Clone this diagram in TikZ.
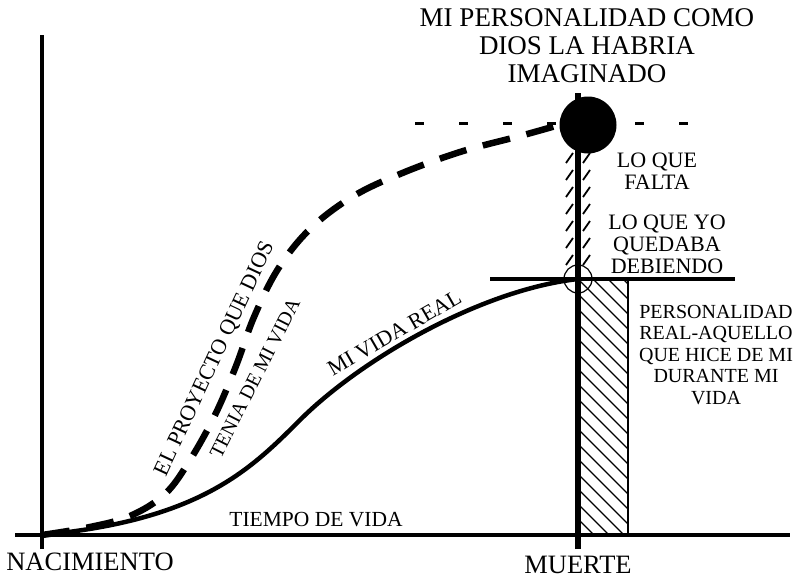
\documentclass[tikz,border=0pt]{standalone}
\usepackage{fontspec}
\setmainfont{Liberation Serif}
\usetikzlibrary{positioning,calc}
\newcommand{\fs}[2]{\fontsize{#1}{#2}\selectfont}

\begin{document}
\begin{tikzpicture}[x=1pt,y=-1pt, every node/.style={inner sep=0pt,align=center},
  axis/.style={line width=3.5pt},
  life/.style={line width=4.5pt,line cap=round},
  plan/.style={line width=6.5pt,dash pattern=on 28pt off 17pt},
  hatch/.style={line width=1.2pt},
  tick/.style={line width=1.8pt},
  lbl/.style={font=\fs{22}{22}}]
\useasboundingbox (0,0) rectangle (806,578);
% axes
\coordinate (o) at (42,535);
\coordinate (yend) at (42,35);
\coordinate (xstart) at (15,535);
\coordinate (xend) at (790,535);
\draw[axis] (xstart) -- (xend);
\draw[axis] ($(o)+(0,14)$) -- (yend);
% end of life
\coordinate (death) at (578,535);
\coordinate (real) at (578,279);
\node[circle,fill,minimum size=57pt] (ideal) at (588,125) {};
\draw[line width=6pt] ($(death)+(0,14)$) -- (578,93);
\draw[line width=4.5pt] (490,279) -- (735,279);
\draw[line width=1.2pt] (real) circle (14);
% realised part
\begin{scope}
\clip (real) rectangle (628,535);
\foreach \y in {219,234,...,535} \draw[hatch] (578,\y) -- ++(70,70);
\end{scope}
\draw[line width=2.5pt] (628,279) -- (628,535);
% missing part
\foreach \y in {158,175,...,263} {
  \draw[tick] (566,\y+5) -- (573,\y-5);
  \draw[tick] (583,\y+5) -- (590,\y-5);
}
\draw[line width=3pt,dash pattern=on 9pt off 35pt] (415,123) -- (690,123);
% curves
\coordinate (bend) at (300,420);
\draw[life] (o) .. controls (200,520) and (250,470) .. (bend) .. controls (360,360) and (480,290) .. (real);
\draw[plan] plot[smooth,tension=0.6] coordinates {(o) (90,527) (130,516) (165,494) (190,460) (215,415) (236,366) (254,317) (278,269) (310,229) (352,197) (400,174) (460,152) (520,136) (ideal.west)};
% labels
\node[font=\fs{27}{28}] (title) at (587,46) {MI PERSONALIDAD COMO\\DIOS LA HABRIA\\IMAGINADO};
\node[lbl] (falta) at (657,171) {LO QUE\\FALTA};
\node[lbl] (debe) at (667,244) {LO QUE YO\\QUEDABA\\DEBIENDO};
\node[font=\fs{20}{21.5}] (pers) at (716,355) {PERSONALIDAD\\REAL-AQUELLO\\QUE HICE DE MI\\DURANTE MI\\VIDA};
\node[font=\fs{21.5}{22}] (tiempo) at (316,520) {TIEMPO DE VIDA};
\node[font=\fs{26.5}{27}] (nac) at (90,562) {NACIMIENTO};
\node[font=\fs{26.5}{27}] (muerte) at (578,565) {MUERTE};
\node[lbl,rotate=30,anchor=base] (vreal) at (398,339) {MI VIDA REAL};
\node[lbl,rotate=65] (proy) at (215,359) {EL PROYECTO QUE DIOS};
\node[font=\fs{20}{20},rotate=63] (tenia) at (255,378) {TENIA DE MI VIDA};
\end{tikzpicture}
\end{document}
